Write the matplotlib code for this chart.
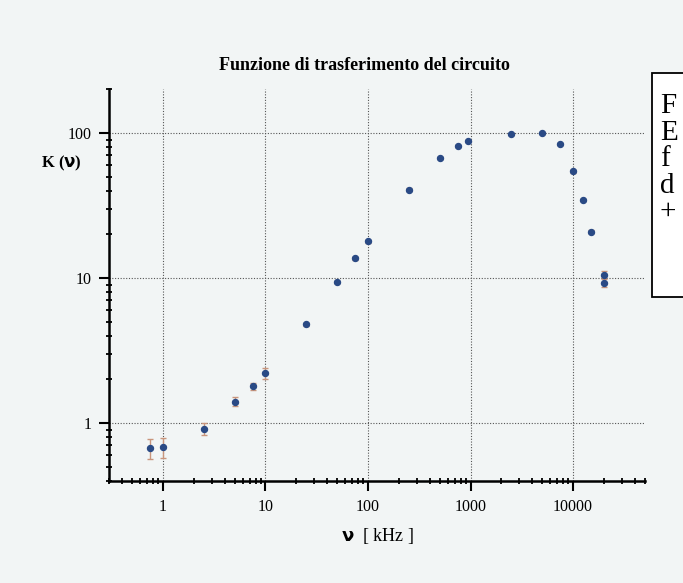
import numpy as np
import matplotlib.pyplot as plt
from matplotlib.patches import Rectangle
from matplotlib.ticker import LogLocator, FixedLocator, NullFormatter

plt.rcParams['font.family'] = ['Liberation Serif', 'DejaVu Serif']

# frequenza [kHz], K(nu), errore su K
freq = [0.75, 1.0, 2.5, 5.0, 7.5, 10.0, 25.0, 50.0, 75.0, 100.0, 250.0,
        500.0, 750.0, 950.0, 2500.0, 5000.0, 7500.0, 10000.0, 12500.0,
        15000.0, 20000.0, 20000.0]
K = [0.67, 0.68, 0.91, 1.40, 1.80, 2.20, 4.8, 9.4, 13.7, 17.9, 40.7,
     67.0, 81.0, 87.5, 98.0, 100.5, 84.0, 54.3, 34.4, 20.9, 10.5, 9.3]
K_err = [0.11, 0.11, 0.09, 0.1, 0.1, 0.18, 0.1, 0.2, 0.3, 0.4, 0.8,
         1.0, 1.2, 1.3, 1.5, 1.5, 1.3, 1.0, 0.7, 0.4, 0.7, 0.7]

x_ticks = [1, 10, 100, 1000, 10000]
x_ticklabels = ['1', '10', '100', '1000', '10000']
y_ticks = [1, 10, 100]
y_ticklabels = ['1', '10', '100']

bg = '#f2f5f5'
fig = plt.figure(figsize=(6.83, 5.83), dpi=100, facecolor=bg)
ax = fig.add_axes([0.160, 0.1755, 0.784, 0.6713], facecolor=bg)

ax.errorbar(freq, K, yerr=K_err, fmt='o', color='#2a4a85', ms=4.3,
            mec='#2a4a85', ecolor='#c9957c', elinewidth=1.0, capsize=2.5,
            capthick=1.0, zorder=3)

ax.set_xscale('log')
ax.set_yscale('log')
ax.set_xlim(0.3, 50000)
ax.set_ylim(0.40, 200)

ax.xaxis.set_major_locator(FixedLocator(x_ticks))
ax.set_xticklabels(x_ticklabels)
ax.yaxis.set_major_locator(FixedLocator(y_ticks))
ax.set_yticklabels(y_ticklabels)
ax.xaxis.set_minor_locator(LogLocator(base=10, subs=np.arange(2, 10)))
ax.yaxis.set_minor_locator(LogLocator(base=10, subs=np.arange(2, 10)))
ax.xaxis.set_minor_formatter(NullFormatter())
ax.yaxis.set_minor_formatter(NullFormatter())

for s in ['top', 'right']:
    ax.spines[s].set_visible(False)
for s in ['left', 'bottom']:
    ax.spines[s].set_linewidth(1.8)

ax.tick_params(which='major', direction='out', length=7, width=1.5,
               labelsize=11.5, pad=6)
ax.tick_params(which='minor', direction='inout', length=5, width=1.3)

ax.grid(True, which='major', color='#555555', linestyle=(0, (1, 1.5)),
        linewidth=0.8)

ax.set_title('Funzione di trasferimento del circuito', fontsize=13,
             fontweight='bold', pad=14, x=0.476)
ax.text(-0.09, 0.81, r'K ($\mathbf{\nu}$)', transform=ax.transAxes,
        fontsize=12, fontweight='bold', ha='center', va='center')
ax.set_xlabel(r'$\mathbf{\nu}$  [ kHz ]', fontsize=13, labelpad=8)

# riquadro sovrapposto (tagliato dal bordo)
box = Rectangle((0.9546, 0.4906), 0.2, 0.3842, transform=fig.transFigure,
                facecolor='white', edgecolor='black', linewidth=1.3,
                zorder=10)
fig.patches.append(box)
lines = ['F', 'E', 'f', 'd', '+']
for i, t in enumerate(lines):
    fig.text(0.966, 0.818 - i * 0.0455, t, fontsize=21, ha='left',
             va='center', zorder=11)

fig.savefig('out.png', dpi=100, facecolor=bg)
